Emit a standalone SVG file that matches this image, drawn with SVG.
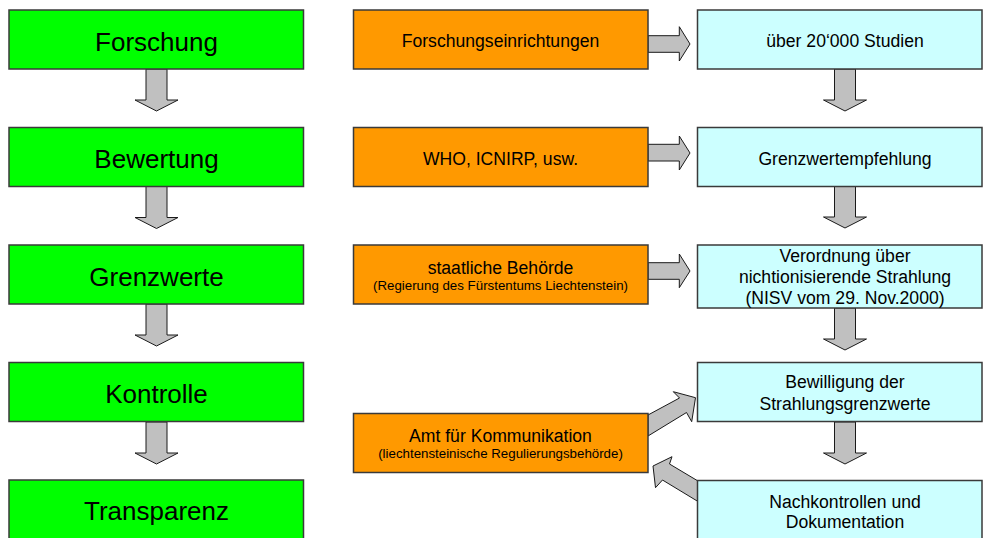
<svg xmlns="http://www.w3.org/2000/svg" width="983" height="538" viewBox="0 0 983 538">
<style>
.g{fill:#00FF00;stroke:#3a3a3a;stroke-width:1.5}
.o{fill:#FF9900;stroke:#3a3a3a;stroke-width:1.5}
.c{fill:#CCFFFF;stroke:#3a3a3a;stroke-width:1.5}
.a{fill:#C0C0C0;stroke:#1a1a1a;stroke-width:1}
text{font-family:"Liberation Sans",Arial,sans-serif;fill:#000;text-anchor:middle}
.tg{font-size:26px}
.tm{font-size:17.6px}
.ts{font-size:13.3px}
</style>
<rect width="983" height="538" fill="#fff"/>
<g id="connectors">
  <polygon class="a" points="146,69 167,69 167,100 178,100 156.5,111 135,100 146,100"/>
  <polygon class="a" points="146,186.5 167,186.5 167,217.5 178,217.5 156.5,228.5 135,217.5 146,217.5"/>
  <polygon class="a" points="146,304 167,304 167,335 178,335 156.5,346 135,335 146,335"/>
  <polygon class="a" points="146,422 167,422 167,453 178,453 156.5,464 135,453 146,453"/>
  <polygon class="a" points="834.5,69 855.5,69 855.5,100 866.5,100 845,111 823.5,100 834.5,100"/>
  <polygon class="a" points="834.5,186 855.5,186 855.5,217 866.5,217 845,228 823.5,217 834.5,217"/>
  <polygon class="a" points="834.5,308 855.5,308 855.5,339 866.5,339 845,350 823.5,339 834.5,339"/>
  <polygon class="a" points="834.5,422 855.5,422 855.5,453 866.5,453 845,464 823.5,453 834.5,453"/>
  <polygon class="a" points="648,35.7 679.3,35.7 679.3,26.7 690,44 679.3,61 679.3,52.3 648,52.3"/>
  <polygon class="a" points="648,144.3 679.3,144.3 679.3,136 690,153 679.3,170 679.3,161 648,161"/>
  <polygon class="a" points="648,262.7 679.3,262.7 679.3,254 690,271 679.3,287.7 679.3,279.3 648,279.3"/>
  <polygon class="a" points="648,415 679.5,398 673.3,391.7 695.5,397.7 691.7,421.7 686.5,412.5 648,436"/>
  <polygon class="a" points="698,481 669.5,464 672,456.7 653,466 655.5,487.7 662.5,480 698,501.5"/>
</g>
<g id="n-forschung"><rect class="g" x="9" y="10" width="294.5" height="59"/><text class="tg" x="156.5" y="50.7">Forschung</text></g>
<g id="n-bewertung"><rect class="g" x="9" y="127.5" width="294.5" height="59"/><text class="tg" x="156.5" y="168">Bewertung</text></g>
<g id="n-grenzwerte"><rect class="g" x="9" y="245" width="294.5" height="59"/><text class="tg" x="156.5" y="285.5">Grenzwerte</text></g>
<g id="n-kontrolle"><rect class="g" x="9" y="362.5" width="294.5" height="59"/><text class="tg" x="156.5" y="402.5">Kontrolle</text></g>
<g id="n-transparenz"><rect class="g" x="9" y="480" width="294.5" height="59"/><text class="tg" x="156.5" y="519.5">Transparenz</text></g>
<g id="n-forschungseinrichtungen"><rect class="o" x="353.5" y="10" width="294.5" height="59"/><text class="tm" x="500.5" y="46.7">Forschungseinrichtungen</text></g>
<g id="n-who"><rect class="o" x="353.5" y="127.5" width="294.5" height="59"/><text class="tm" x="500.5" y="164.5">WHO, ICNIRP, usw.</text></g>
<g id="n-behoerde"><rect class="o" x="353.5" y="245" width="294.5" height="59"/><text class="tm" x="500.5" y="274">staatliche Behörde</text><text class="ts" x="500.5" y="290">(Regierung des Fürstentums Liechtenstein)</text></g>
<g id="n-amt"><rect class="o" x="353.5" y="413.5" width="294.5" height="59"/><text class="tm" x="500.5" y="441.7">Amt für Kommunikation</text><text class="ts" x="500.5" y="457.7">(liechtensteinische Regulierungsbehörde)</text></g>
<g id="n-studien"><rect class="c" x="697.5" y="10" width="284.5" height="59"/><text class="tm" x="845" y="46.7">über 20‘000 Studien</text></g>
<g id="n-empfehlung"><rect class="c" x="697.5" y="127.5" width="284.5" height="59"/><text class="tm" x="845" y="164.5">Grenzwertempfehlung</text></g>
<g id="n-nisv"><rect class="c" x="697.5" y="245" width="284.5" height="63"/><text class="tm" x="845" y="261.7">Verordnung über</text><text class="tm" x="845" y="283">nichtionisierende Strahlung</text><text class="tm" x="845" y="303.5">(NISV vom 29. Nov.2000)</text></g>
<g id="n-bewilligung"><rect class="c" x="697.5" y="362.5" width="284.5" height="59"/><text class="tm" x="845" y="388.3">Bewilligung der</text><text class="tm" x="845" y="410">Strahlungsgrenzwerte</text></g>
<g id="n-nachkontrollen"><rect class="c" x="697.5" y="480.5" width="284.5" height="60"/><text class="tm" x="845" y="508.3">Nachkontrollen und</text><text class="tm" x="845" y="528.3">Dokumentation</text></g>
</svg>
